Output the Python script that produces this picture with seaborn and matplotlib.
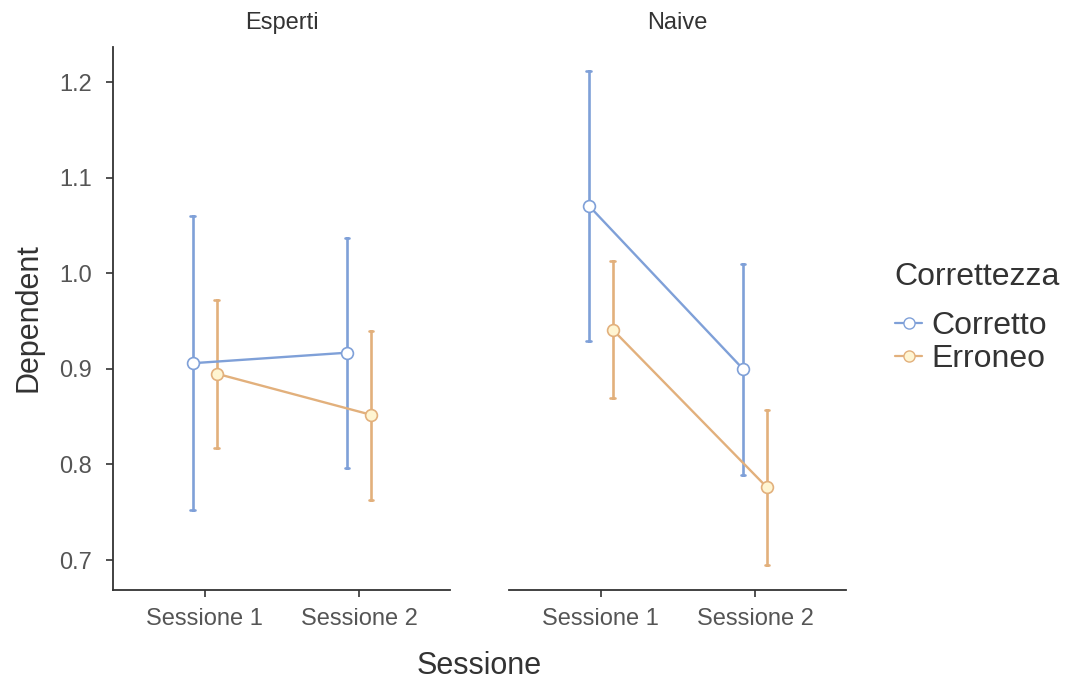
import numpy as np
import pandas as pd
import matplotlib
matplotlib.use("Agg")
import matplotlib.pyplot as plt
from matplotlib.lines import Line2D
import seaborn as sns

# ---------------- data ----------------
groups = ["Esperti", "Naive"]
sessions = ["Sessione 1", "Sessione 2"]
levels = ["Corretto", "Erroneo"]

esperti_corretto_mean = [0.906, 0.917]
esperti_corretto_lo = [0.752, 0.796]
esperti_corretto_hi = [1.060, 1.037]
esperti_erroneo_mean = [0.895, 0.852]
esperti_erroneo_lo = [0.817, 0.763]
esperti_erroneo_hi = [0.972, 0.940]

naive_corretto_mean = [1.071, 0.900]
naive_corretto_lo = [0.929, 0.789]
naive_corretto_hi = [1.212, 1.010]
naive_erroneo_mean = [0.941, 0.776]
naive_erroneo_lo = [0.870, 0.695]
naive_erroneo_hi = [1.013, 0.857]

yticks = [0.7, 0.8, 0.9, 1.0, 1.1, 1.2]

series = {
    ("Esperti", "Corretto"): (esperti_corretto_mean, esperti_corretto_lo, esperti_corretto_hi),
    ("Esperti", "Erroneo"): (esperti_erroneo_mean, esperti_erroneo_lo, esperti_erroneo_hi),
    ("Naive", "Corretto"): (naive_corretto_mean, naive_corretto_lo, naive_corretto_hi),
    ("Naive", "Erroneo"): (naive_erroneo_mean, naive_erroneo_lo, naive_erroneo_hi),
}

# long table: lower bound, mean, upper bound per cell (median -> mean, min/max -> CI)
rows = []
for (g, lev), (m, lo, hi) in series.items():
    for i, s in enumerate(sessions):
        for v in (lo[i], m[i], hi[i]):
            rows.append({"Gruppo": g, "Sessione": s, "Correttezza": lev, "Dependent": v})
df = pd.DataFrame(rows)

# ---------------- style ----------------
sns.set_theme(style="white")
plt.rcParams["font.family"] = ["Liberation Sans", "DejaVu Sans"]

blue = "#7FA0D8"
orange = "#E2B07C"
palette = {"Corretto": blue, "Erroneo": orange}
face = {"Corretto": "#FFFFFF", "Erroneo": "#FFF5D2"}
tick_col = "#555555"
text_col = "#333333"
spine_col = "#333333"

W, H = 1066, 683
fig = plt.figure(figsize=(W / 100, H / 100), dpi=100)
ax1 = fig.add_axes([113 / W, 93 / H, 337 / W, 543 / H])
ax2 = fig.add_axes([509 / W, 93 / H, 337 / W, 543 / H], sharey=ax1)

for ax, g in zip([ax1, ax2], groups):
    sub = df[df["Gruppo"] == g]
    sns.pointplot(
        data=sub, x="Sessione", y="Dependent", hue="Correttezza",
        order=sessions, hue_order=levels, palette=palette,
        estimator="median", errorbar=lambda v: (np.min(v), np.max(v)),
        dodge=0.156, capsize=0.03, markers="o", linestyles="-",
        markersize=8.5, linewidth=1.7, err_kws={"linewidth": 1.9},
        legend=False, ax=ax,
    )
    for ln in ax.lines:
        if ln.get_marker() not in (None, "None", "", " "):
            c = matplotlib.colors.to_hex(ln.get_color()).upper()
            lev = "Corretto" if c == blue.upper() else "Erroneo"
            ln.set_markerfacecolor(face[lev])
            ln.set_markeredgecolor(palette[lev])
            ln.set_markeredgewidth(1.2)
            ln.set_zorder(5)
    ax.set_xlim(-0.595, 1.59)
    ax.set_ylim(0.6686, 1.237)
    ax.set_xlabel("")
    ax.set_ylabel("")
    ax.set_title(g, fontsize=17, color=text_col, pad=13)
    for side in ["top", "right"]:
        ax.spines[side].set_visible(False)
    ax.spines["bottom"].set_color(spine_col)
    ax.spines["bottom"].set_linewidth(1.3)
    ax.spines["left"].set_color(spine_col)
    ax.spines["left"].set_linewidth(1.3)
    ax.tick_params(axis="x", length=5, width=1.2, color=spine_col,
                   labelcolor=tick_col, labelsize=17, pad=8, bottom=True)
    ax.grid(False)

ax1.set_yticks(yticks)
ax1.set_yticklabels([f"{t:.1f}" for t in yticks])
ax1.tick_params(axis="y", length=5, width=1.2, color=spine_col,
                labelcolor=tick_col, labelsize=17, pad=10, left=True)
ax2.spines["left"].set_visible(False)
ax2.tick_params(axis="y", left=False, labelleft=False)

fig.text(479.5 / W, 1 - 666 / H, "Sessione", ha="center", va="center",
         fontsize=22, color=text_col)
fig.text(28 / W, 1 - 318 / H, "Dependent", ha="center", va="center",
         rotation=90, fontsize=22, color=text_col)

# legend
fig.text(894 / W, 1 - 277 / H, "Correttezza", ha="left", va="center",
         fontsize=23, color=text_col)
handles = [
    Line2D([], [], color=palette[l], marker="o", markerfacecolor=face[l],
           markeredgecolor=palette[l], markersize=8, linewidth=1.6)
    for l in levels
]
leg = fig.legend(handles, levels, loc="upper left",
                 bbox_to_anchor=(895 / W, 1 - 311 / H), frameon=False,
                 fontsize=23, handlelength=0.85, borderaxespad=0,
                 handletextpad=0.3, labelspacing=0.1, borderpad=0,
                 alignment="left")
for t in leg.get_texts():
    t.set_color(text_col)

fig.savefig("out.png", dpi=100)
